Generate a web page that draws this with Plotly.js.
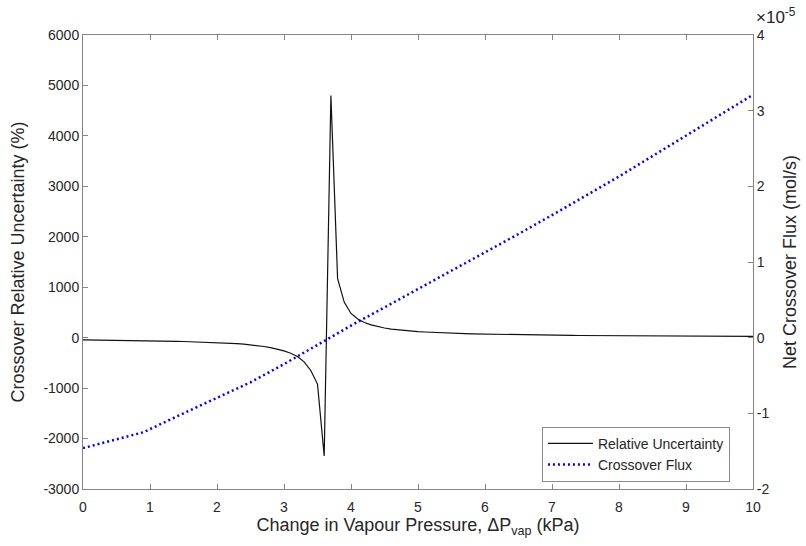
<!DOCTYPE html>
<html>
<head>
<meta charset="utf-8">
<script src="https://cdn.plot.ly/plotly-3.0.1.min.js"></script>
<style>html,body{margin:0;padding:0;background:#fff;}#chart{width:806px;height:546px;}</style>
</head>
<body>
<div id="chart"></div>
<script>
// Change in vapour pressure (kPa)
const pressure = [
  0.0,0.1,0.2,0.3,0.4,0.5,0.6,0.7,0.8,0.9,
  1.0,1.1,1.2,1.3,1.4,1.5,1.6,1.7,1.8,1.9,
  2.0,2.1,2.2,2.3,2.4,2.5,2.6,2.7,2.8,2.9,
  3.0,3.1,3.2,3.3,3.4,3.5,3.6,3.7,3.8,3.9,
  4.0,4.1,4.2,4.3,4.4,4.5,4.6,4.7,4.8,4.9,
  5.0,5.1,5.2,5.3,5.4,5.5,5.6,5.7,5.8,5.9,
  6.0,6.1,6.2,6.3,6.4,6.5,6.6,6.7,6.8,6.9,
  7.0,7.1,7.2,7.3,7.4,7.5,7.6,7.7,7.8,7.9,
  8.0,8.1,8.2,8.3,8.4,8.5,8.6,8.7,8.8,8.9,
  9.0,9.1,9.2,9.3,9.4,9.5,9.6,9.7,9.8,9.9,10.0
];
// Crossover relative uncertainty (%)
const relUncertainty = [
  -45,-46,-48,-49,-51,-52,-54,-56,-58,-60,
  -62,-64,-67,-70,-73,-76,-80,-84,-88,-93,
  -99,-105,-112,-120,-129,-141,-156,-175,-198,-226,
  -262,-310,-375,-480,-650,-920,-2345,4800,1170,700,
  480,370,300,253,218,192,171,155,141,130,
  120,112,104,98,92,87,83,79,75,72,
  69,66,63,61,59,56,55,53,51,49,
  48,47,45,44,43,42,41,40,39,38,
  37,36,35,35,34,33,32,32,31,31,
  30,29,29,28,28,27,27,26,26,26,25
];
// Net crossover flux (mol/s)
const fluxPressure = [0.0,0.9,1.5,2.0,2.5,3.0,3.5,4.0,4.5,5.0,5.5,6.0,6.5,7.0,7.5,8.0,8.5,9.0,9.5,10.0];
const netFlux = [-1.46e-5,-1.25e-5,-1.00e-5,-0.80e-5,-0.59e-5,-0.35e-5,-0.09e-5,0.16e-5,0.40e-5,0.64e-5,
                 0.88e-5,1.12e-5,1.37e-5,1.62e-5,1.87e-5,2.13e-5,2.40e-5,2.67e-5,2.95e-5,3.21e-5];
// Tick labels
const xTicks = [0,1,2,3,4,5,6,7,8,9,10];
const yLeftTicks = [-3000,-2000,-1000,0,1000,2000,3000,4000,5000,6000];
const yRightTickVals = [-2e-5,-1e-5,0,1e-5,2e-5,3e-5,4e-5];
const yRightTickText = ['-2','-1','0','1','2','3','4'];

const axisColor = '#858585';
const textColor = '#262626';
const fam = 'Liberation Sans, Arial, sans-serif';

const traces = [
  {
    x: pressure, y: relUncertainty, type: 'scatter', mode: 'lines',
    name: 'Relative Uncertainty',
    line: {color: '#111111', width: 1.2},
    yaxis: 'y'
  },
  {
    x: fluxPressure, y: netFlux, type: 'scatter', mode: 'lines',
    name: 'Crossover Flux',
    line: {color: '#0000ff', width: 2.5, dash: '2px,3px'},
    yaxis: 'y2'
  }
];

const layout = {
  width: 806, height: 546,
  margin: {l: 83, r: 53, t: 35, b: 57},
  paper_bgcolor: '#ffffff', plot_bgcolor: '#ffffff',
  font: {family: fam, size: 14, color: textColor},
  showlegend: true,
  legend: {
    x: 0.685, y: 0.137, xanchor: 'left', yanchor: 'top',
    bgcolor: '#ffffff', bordercolor: '#8a8a8a', borderwidth: 1,
    font: {family: fam, size: 14, color: textColor},
    itemwidth: 45, tracegroupgap: 0
  },
  xaxis: {
    range: [0, 10], tickvals: xTicks, ticktext: xTicks.map(String),
    showgrid: false, zeroline: false,
    showline: true, linecolor: axisColor, linewidth: 1, mirror: 'ticks',
    ticks: 'inside', ticklen: 5, tickcolor: axisColor,
    tickfont: {family: fam, size: 14, color: textColor},
    ticklabelstandoff: 5,
    title: {text: 'Change in Vapour Pressure, ΔP<sub>vap</sub> (kPa)', font: {family: fam, size: 18, color: textColor}, standoff: 3}
  },
  yaxis: {
    range: [-3000, 6000], tickvals: yLeftTicks, ticktext: yLeftTicks.map(String),
    showgrid: false, zeroline: false,
    showline: true, linecolor: axisColor, linewidth: 1,
    ticks: 'inside', ticklen: 5, tickcolor: axisColor,
    tickfont: {family: fam, size: 14, color: textColor},
    title: {text: 'Crossover Relative Uncertainty (%)', font: {family: fam, size: 18, color: textColor}, standoff: 14}
  },
  yaxis2: {
    overlaying: 'y', side: 'right',
    range: [-2e-5, 4e-5], tickvals: yRightTickVals, ticktext: yRightTickText,
    showgrid: false, zeroline: false,
    showline: true, linecolor: axisColor, linewidth: 1,
    ticks: 'inside', ticklen: 5, tickcolor: axisColor,
    tickfont: {family: fam, size: 14, color: textColor},
    title: {text: 'Net Crossover Flux (mol/s)', font: {family: fam, size: 18, color: textColor}, standoff: 14}
  },
  annotations: [
    {text: '×10<sup>-5</sup>', xref: 'paper', yref: 'paper', x: 1.0, y: 1.0,
     xanchor: 'left', yanchor: 'bottom', showarrow: false, xshift: 1, yshift: 6,
     font: {family: fam, size: 17, color: textColor}}
  ]
};

Plotly.newPlot('chart', traces, layout, {displayModeBar: false, staticPlot: true});
</script>
</body>
</html>
